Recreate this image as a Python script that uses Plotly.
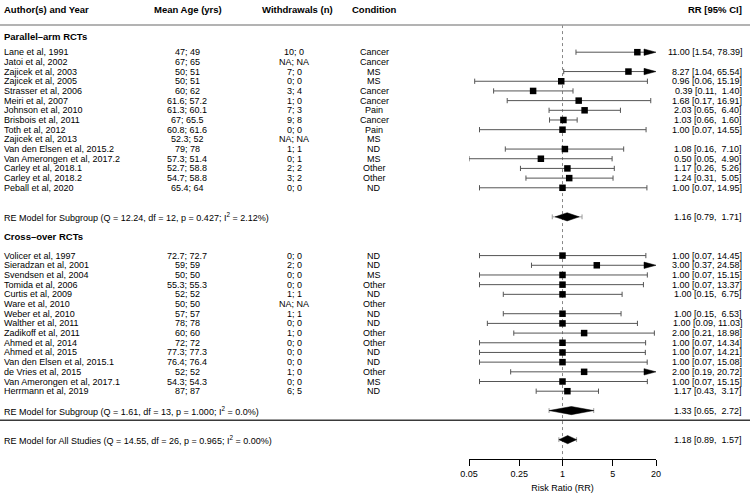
import math
import plotly.graph_objects as go

FONT = "Liberation Sans, Arial, Helvetica, sans-serif"

# ---------------- data ----------------
par_study = ["Lane et al, 1991", "Jatoi et al, 2002", "Zajicek et al, 2003", "Zajicek et al, 2005",
             "Strasser et al, 2006", "Meiri et al, 2007", "Johnson et al, 2010", "Brisbois et al, 2011",
             "Toth et al, 2012", "Zajicek et al, 2013", "Van den Elsen et al, 2015.2",
             "Van Amerongen et al, 2017.2", "Carley et al, 2018.1", "Carley et al, 2018.2", "Peball et al, 2020"]
par_age = ["47; 49", "67; 65", "50; 51", "50; 51", "60; 62", "61.6; 57.2", "61.3; 60.1", "67; 65.5",
           "60.8; 61.6", "52.3; 52", "79; 78", "57.3; 51.4", "52.7; 58.8", "54.7; 58.8", "65.4; 64"]
par_wd = ["10; 0", "NA; NA", "7; 0", "0; 0", "3; 4", "1; 0", "7; 3", "9; 8", "0; 0", "NA; NA",
          "1; 1", "0; 1", "2; 2", "3; 2", "0; 0"]
par_cond = ["Cancer", "Cancer", "MS", "MS", "Cancer", "Cancer", "Pain", "Cancer", "Pain", "MS",
            "ND", "MS", "Other", "Other", "ND"]
par_rr = [11.00, None, 8.27, 0.96, 0.39, 1.68, 2.03, 1.03, 1.00, None, 1.08, 0.50, 1.17, 1.24, 1.00]
par_lo = [1.54, None, 1.04, 0.06, 0.11, 0.17, 0.65, 0.66, 0.07, None, 0.16, 0.05, 0.26, 0.31, 0.07]
par_hi = [78.39, None, 65.54, 15.19, 1.40, 16.91, 6.40, 1.60, 14.55, None, 7.10, 4.90, 5.26, 5.05, 14.95]

cro_study = ["Volicer et al, 1997", "Sieradzan et al, 2001", "Svendsen et al, 2004", "Tomida et al, 2006",
             "Curtis et al, 2009", "Ware et al, 2010", "Weber et al, 2010", "Walther et al, 2011",
             "Zadikoff et al, 2011", "Ahmed et al, 2014", "Ahmed et al, 2015", "Van den Elsen et al, 2015.1",
             "de Vries et al, 2015", "Van Amerongen et al, 2017.1", "Herrmann et al, 2019"]
cro_age = ["72.7; 72.7", "59; 59", "50; 50", "55.3; 55.3", "52; 52", "50; 50", "57; 57", "78; 78",
           "60; 60", "72; 72", "77.3; 77.3", "76.4; 76.4", "52; 52", "54.3; 54.3", "87; 87"]
cro_wd = ["0; 0", "2; 0", "0; 0", "0; 0", "1; 1", "NA; NA", "1; 1", "0; 0", "1; 0", "0; 0", "0; 0",
          "0; 0", "1; 0", "0; 0", "6; 5"]
cro_cond = ["ND", "ND", "MS", "Other", "ND", "Other", "ND", "ND", "Other", "Other", "ND", "ND",
            "Other", "MS", "ND"]
cro_rr = [1.00, 3.00, 1.00, 1.00, 1.00, None, 1.00, 1.00, 2.00, 1.00, 1.00, 1.00, 2.00, 1.00, 1.17]
cro_lo = [0.07, 0.37, 0.07, 0.07, 0.15, None, 0.15, 0.09, 0.21, 0.07, 0.07, 0.07, 0.19, 0.07, 0.43]
cro_hi = [14.45, 24.58, 15.15, 13.37, 6.75, None, 6.53, 11.03, 18.98, 14.34, 14.21, 15.08, 20.72, 15.15, 3.17]

sum_labels = ["RE Model for Subgroup (Q = 12.24, df = 12, p = 0.427; I<sup>2</sup> = 2.12%)",
              "RE Model for Subgroup (Q = 1.61, df = 13, p = 1.000; I<sup>2</sup> = 0.0%)",
              "RE Model for All Studies (Q = 14.55, df = 26, p = 0.965; I<sup>2</sup> = 0.00%)"]
sum_rr = [1.16, 1.33, 1.18]
sum_lo = [0.79, 0.65, 0.89]
sum_hi = [1.71, 2.72, 1.57]
pi_lo = [0.72, 0.65, 0.89]
pi_hi = [1.87, 2.72, 1.57]

group_titles = ["Parallel\u2013arm RCTs", "Cross\u2013over RCTs"]
headers = ["Author(s) and Year", "Mean Age (yrs)", "Withdrawals (n)", "Condition", "RR [95% CI]"]
tick_vals = [0.05, 0.25, 1, 5, 20]
tick_text = ["0.05", "0.25", "1", "5", "20"]
x_title = "Risk Ratio (RR)"

# ---------------- layout geometry ----------------
W, H = 750, 497
BOTTOM = 38
XMIN, XMAX = 0.05, 20
ROW_PX = 9.686
par_rows = list(range(0, 15))
cro_rows = list(range(21, 36))
group_rows = [-1.6, 19]
sum_rows = [17, 37, 40]
header_row = -4.4
header_line_row = -2.8
sep_row = 38
axis_row = 42
top_row = axis_row - (H - BOTTOM) / ROW_PX

col_x = [2, 187, 294, 374, 744]   # pixel positions of text columns
hdr_x = [2, 188, 297, 374, 744]
anchors = ["left", "center", "center", "center", "right"]


def px(x):
    return x / W


def fmt_ci(rr, lo, hi):
    if rr is None:
        return ""
    s = "%.2f [%.2f, %5.2f]" % (rr, lo, hi)
    return s.replace("  ", "\u00a0 ")


fig = go.Figure()
annotations = []


def add_text(x, y, text, anchor, bold=False, size=9):
    if not text:
        return
    annotations.append(dict(x=px(x), y=y, xref="paper", yref="y", text=("<b>%s</b>" % text) if bold else text,
                            showarrow=False, xanchor=anchor, yanchor="middle",
                            font=dict(family=FONT, size=size, color="black")))


# headers
for i, h in enumerate(headers):
    add_text(hdr_x[i], header_row, h, anchors[i], bold=True, size=9.5)
for gi, g in enumerate(group_titles):
    add_text(2, group_rows[gi], g, "left", bold=True, size=9.5)

# study rows text
for rows, st, ag, wd, cd, rr, lo, hi in [
    (par_rows, par_study, par_age, par_wd, par_cond, par_rr, par_lo, par_hi),
    (cro_rows, cro_study, cro_age, cro_wd, cro_cond, cro_rr, cro_lo, cro_hi)]:
    for j, r in enumerate(rows):
        add_text(col_x[0], r, st[j], "left")
        add_text(col_x[1], r, ag[j], "center")
        add_text(col_x[2], r, wd[j], "center")
        add_text(col_x[3], r, cd[j], "center")
        add_text(col_x[4], r, fmt_ci(rr[j], lo[j], hi[j]), "right")

for k, r in enumerate(sum_rows):
    add_text(2, r, sum_labels[k], "left")
    add_text(col_x[4], r, fmt_ci(sum_rr[k], sum_lo[k], sum_hi[k]), "right")

# ---------------- forest marks ----------------
all_rows = par_rows + cro_rows
all_rr = par_rr + cro_rr
all_lo = par_lo + cro_lo
all_hi = par_hi + cro_hi

cap = 0.27
arrow_len = 0.167   # decades
arrow_h = 0.33

lx, ly = [], []
ax_, ay_ = [], []
sx, sy = [], []
for r, e, lo, hi in zip(all_rows, all_rr, all_lo, all_hi):
    if e is None:
        continue
    lo_c = max(lo, XMIN)
    arrow = hi > XMAX
    base = 10 ** (math.log10(XMAX) - arrow_len)
    hi_c = base if arrow else hi
    lx += [lo_c, hi_c, None]
    ly += [r, r, None]
    if lo >= XMIN:
        lx += [lo, lo, None]
        ly += [r - cap, r + cap, None]
    if not arrow:
        lx += [hi, hi, None]
        ly += [r - cap, r + cap, None]
    else:
        ax_ += [base, XMAX, base, base, None]
        ay_ += [r - arrow_h, r, r + arrow_h, r - arrow_h, None]
    sx.append(e)
    sy.append(r)

# reference line at 1
fig.add_trace(go.Scatter(x=[1, 1], y=[header_line_row, axis_row], mode="lines",
                         line=dict(color="#888888", width=1, dash="dot"), hoverinfo="skip"))

fig.add_trace(go.Scatter(x=lx, y=ly, mode="lines", line=dict(color="#555555", width=1),
                         hoverinfo="skip"))
fig.add_trace(go.Scatter(x=ax_, y=ay_, mode="lines", fill="toself", fillcolor="black",
                         line=dict(color="black", width=0.5), hoverinfo="skip"))
fig.add_trace(go.Scatter(x=sx, y=sy, mode="markers",
                         marker=dict(symbol="square", size=6.5, color="black", line=dict(width=0)),
                         cliponaxis=False, hoverinfo="skip"))

# prediction intervals
px_, py_ = [], []
for r, a, b in zip(sum_rows, pi_lo, pi_hi):
    px_ += [a, b, None, a, a, None, b, b, None]
    py_ += [r, r, None, r - 0.25, r + 0.25, None, r - 0.25, r + 0.25, None]
fig.add_trace(go.Scatter(x=px_, y=py_, mode="lines", line=dict(color="#9a9a9a", width=1),
                         hoverinfo="skip"))

# diamonds
dh = 0.42
for r, e, a, b in zip(sum_rows, sum_rr, sum_lo, sum_hi):
    fig.add_trace(go.Scatter(x=[a, e, b, e, a], y=[r, r - dh, r, r + dh, r], mode="lines",
                             fill="toself", fillcolor="black", line=dict(color="black", width=0.5),
                             hoverinfo="skip"))

shapes = [
    dict(type="line", xref="paper", yref="y", x0=0, x1=1, y0=header_line_row, y1=header_line_row,
         line=dict(color="#9a9a9a", width=1.6)),
    dict(type="line", xref="paper", yref="y", x0=0, x1=1, y0=sep_row, y1=sep_row,
         line=dict(color="#3a3a3a", width=1.6)),
]

fig.update_layout(
    width=W, height=H,
    margin=dict(l=0, r=0, t=0, b=BOTTOM),
    paper_bgcolor="white", plot_bgcolor="white",
    showlegend=False,
    hovermode=False,
    annotations=annotations,
    shapes=shapes,
    xaxis=dict(type="log", domain=[px(469), px(656)],
               range=[math.log10(XMIN), math.log10(XMAX)],
               tickvals=tick_vals, ticktext=tick_text,
               ticks="outside", ticklen=6, tickcolor="black", tickwidth=1,
               showline=True, linecolor="black", linewidth=1,
               showgrid=False, zeroline=False, automargin=False, fixedrange=True,
               tickfont=dict(family=FONT, size=9, color="black"),
               title=dict(text=x_title, standoff=6, font=dict(family=FONT, size=9, color="black"))),
    yaxis=dict(range=[axis_row, top_row], visible=False, showgrid=False, zeroline=False,
               fixedrange=True),
)

fig.write_html("out.html", config={"displayModeBar": False, "staticPlot": True},
               post_script="document.body.style.margin='0px';document.body.style.padding='0px';")
